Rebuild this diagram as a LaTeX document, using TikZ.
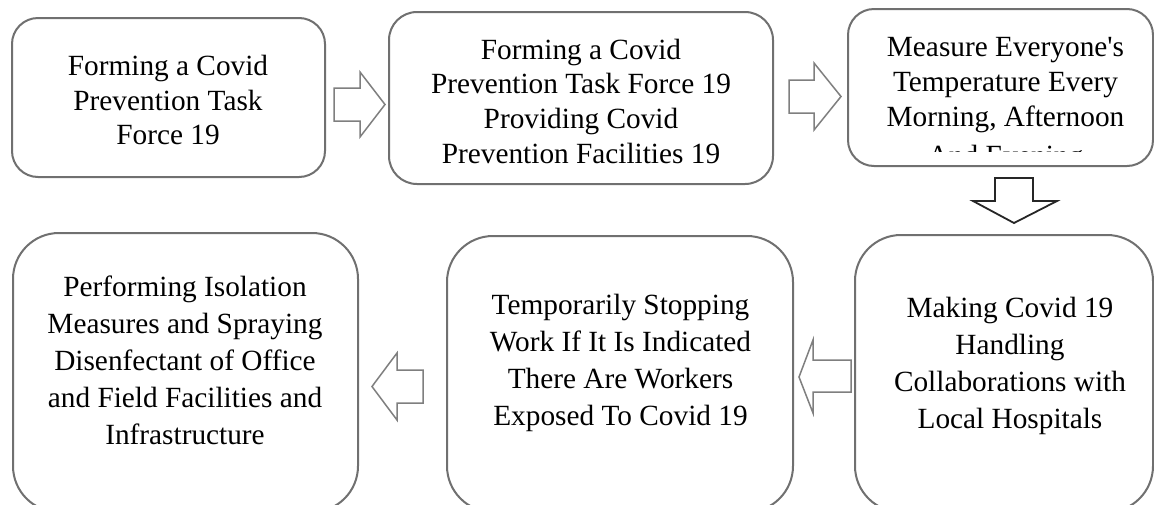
\documentclass[tikz,border=0pt]{standalone}
\usepackage{fontspec}
\setmainfont{Liberation Serif}
\definecolor{boxgray}{HTML}{707070}
\definecolor{arrgray}{HTML}{7F7F7F}
\tikzset{
  box/.style={draw=boxgray, line width=2pt, rectangle, inner sep=0pt, outer sep=0pt},
  txt/.style={align=center, font=\fontsize{29.3}{34.8}\selectfont, inner sep=0pt},
  txtb/.style={align=center, font=\fontsize{29.3}{37}\selectfont, inner sep=0pt},
  blockarrow/.style={draw=arrgray, line width=1.5pt, fill=white, line join=miter},
  blockarrowdark/.style={draw=black!85, line width=1.8pt, fill=white, line join=miter},
}
\begin{document}
\begin{tikzpicture}[x=1pt,y=-1pt]
\useasboundingbox (0,0) rectangle (1154,504);
\fill[white] (0,0) rectangle (1154,504);
\clip (0,0) rectangle (1154,504);

% boxes
\node[box, rounded corners=26pt, minimum width=313pt, minimum height=159pt] (b1) at (168.5,97.5) {};
\node[box, rounded corners=28pt, minimum width=384pt, minimum height=172pt] (b2) at (581,98) {};
\node[box, rounded corners=26pt, minimum width=305pt, minimum height=157pt] (b3) at (1000.5,87.5) {};
\node[box, rounded corners=46pt, minimum width=298pt, minimum height=277pt] (b4) at (1004,373.5) {};
\node[box, rounded corners=46pt, minimum width=346pt, minimum height=276pt] (b5) at (620,374) {};
\node[box, rounded corners=46pt, minimum width=345pt, minimum height=279pt] (b6) at (185.5,372.5) {};

% texts
\node[txt] (t1) at (168,100) {Forming a Covid\\Prevention Task\\Force 19};
\node[txt] (t2) at (581,101.2) {Forming a Covid\\Prevention Task Force 19\\Providing Covid\\Prevention Facilities 19};
\begin{scope}
  \clip (848,0) rectangle (1154,151);
  \node[txt] (t3) at (1005.5,104.5) {Measure Everyone\textquotesingle s\\Temperature Every\\Morning, Afternoon\\[4pt]And Evening};
\end{scope}
\node[txtb] (t4) at (1010,365.5) {Making Covid 19\\Handling\\Collaborations with\\Local Hospitals};
\node[txtb] (t5) at (620.5,363) {Temporarily Stopping\\Work If It Is Indicated\\There Are Workers\\Exposed To Covid 19};
\node[txtb] (t6) at (185,360.5) {Performing Isolation\\Measures and Spraying\\Disenfectant of Office\\and Field Facilities and\\Infrastructure};

% block arrows
\draw[blockarrow] (334,88) -- (360,88) -- (360,72) -- (385,104.5) -- (360,137) -- (360,121) -- (334,121) -- cycle;
\draw[blockarrow] (789,80) -- (814,80) -- (814,63) -- (841,96.5) -- (814,130) -- (814,113) -- (789,113) -- cycle;
\draw[blockarrowdark] (995,178) -- (1033,178) -- (1033,201) -- (1057,201) -- (1014,223) -- (973,201) -- (995,201) -- cycle;
\draw[blockarrow] (851,360) -- (813,360) -- (813,340) -- (799,377) -- (813,413) -- (813,392) -- (851,392) -- cycle;
\draw[blockarrow] (423,370) -- (397,370) -- (397,353) -- (372,386.5) -- (397,420) -- (397,403) -- (423,403) -- cycle;
\end{tikzpicture}
\end{document}
